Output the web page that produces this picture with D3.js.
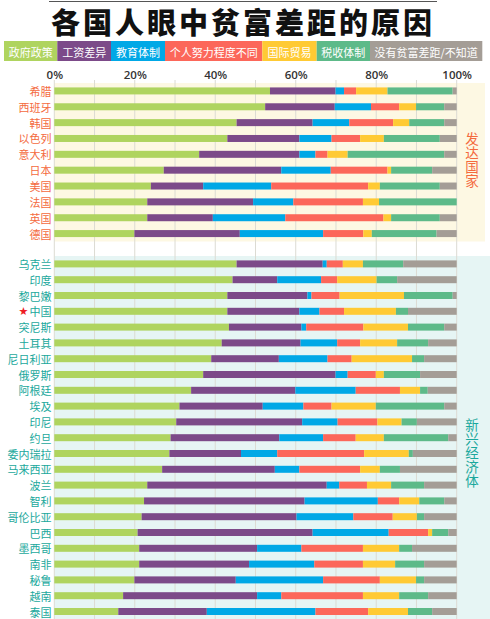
<!DOCTYPE html>
<html>
<head>
<meta charset="utf-8">
<script src="https://cdn.jsdelivr.net/npm/d3@7"></script>
<style>
  html, body { margin: 0; padding: 0; background: #fff; }
  svg { display: block; }
</style>
</head>
<body>
<svg id="chart" width="490" height="619"></svg>
<script>
// ---- data ----
const title = "各国人眼中贫富差距的原因";
const categories = ["政府政策", "工资差异", "教育体制", "个人努力程度不同", "国际贸易", "税收体制", "没有贫富差距/不知道"];
const seriesKeys = ["policy", "wages", "education", "effort", "trade", "tax", "none"];
const groupNames = ["发达国家", "新兴经济体"];
const developed = ["希腊", "西班牙", "韩国", "以色列", "意大利", "日本", "美国", "法国", "英国", "德国"];
const emerging = ["乌克兰", "印度", "黎巴嫩", "中国", "突尼斯", "土耳其", "尼日利亚", "俄罗斯", "阿根廷", "埃及", "印尼",
  "约旦", "委内瑞拉", "马来西亚", "波兰", "智利", "哥伦比亚", "巴西", "墨西哥", "南非", "秘鲁", "越南", "泰国"];
const highlight = "中国";
const tickValues = [0, 20, 40, 60, 80, 100];

// values in the order developed then emerging
const policy = [53.6, 52.4, 45.3, 43.0, 36.0, 27.2, 24.0, 23.1, 23.1, 19.9,
  45.3, 44.3, 43.0, 43.0, 43.4, 41.6, 39.0, 37.0, 34.0, 31.1, 30.3, 28.9, 28.6, 26.8, 23.1, 22.3, 21.7, 20.7, 21.1, 21.1, 19.9, 17.1, 15.9];
const wages = [16.3, 17.3, 18.9, 17.9, 24.9, 29.2, 13.0, 26.3, 16.3, 26.2,
  21.4, 11.1, 19.9, 17.9, 18.0, 19.6, 16.8, 32.9, 25.9, 20.7, 31.3, 27.0, 17.8, 28.0, 44.6, 39.9, 38.5, 43.5, 29.3, 27.3, 25.2, 33.3, 22.0];
const education = [2.1, 9.0, 9.1, 8.0, 4.0, 12.3, 16.9, 10.0, 18.0, 20.7,
  1.0, 10.9, 1.0, 5.0, 1.2, 9.1, 12.1, 3.0, 15.0, 10.1, 8.8, 10.9, 9.0, 6.1, 3.1, 18.2, 14.1, 18.9, 11.0, 16.2, 21.7, 6.0, 27.0];
const effort = [3.0, 7.0, 10.9, 7.1, 3.0, 14.1, 24.1, 17.3, 24.4, 10.0,
  4.0, 4.0, 7.0, 6.1, 14.2, 5.7, 6.0, 7.0, 11.0, 7.0, 9.9, 8.1, 21.6, 15.1, 6.9, 5.3, 9.8, 9.8, 15.3, 12.1, 14.1, 20.3, 13.1];
const trade = [7.8, 4.2, 4.0, 5.9, 5.0, 0.9, 2.9, 4.0, 1.9, 2.1,
  5.0, 9.8, 16.0, 12.9, 11.1, 9.2, 15.0, 2.0, 5.0, 11.0, 6.0, 7.0, 11.1, 4.9, 6.0, 5.0, 6.0, 1.0, 9.0, 8.0, 9.0, 9.0, 9.9];
const tax = [16.2, 7.0, 8.7, 13.9, 24.0, 10.2, 14.9, 19.3, 12.1, 16.1,
  10.0, 5.1, 12.1, 3.0, 9.0, 7.7, 3.0, 9.0, 1.9, 17.0, 3.8, 16.0, 1.0, 5.0, 8.2, 6.2, 1.8, 4.0, 3.2, 7.2, 2.0, 7.2, 6.0];
const none = [1.0, 3.1, 3.1, 4.2, 3.1, 6.1, 4.2, 0, 4.2, 5.0,
  13.3, 14.8, 1.0, 12.1, 3.1, 7.1, 8.1, 9.1, 7.2, 3.1, 9.9, 2.1, 10.9, 14.1, 8.1, 3.1, 8.1, 2.1, 11.1, 8.1, 8.1, 7.1, 6.1];

const colors = ["#afd45f", "#7c4a89", "#00a8e6", "#fc675a", "#ffca34", "#5dba89", "#a49d96"];

// ---- build table ----
const seriesArrays = [policy, wages, education, effort, trade, tax, none];
const countries = developed.concat(emerging);
const rows = countries.map((c, i) => {
  const r = { country: c, group: i < developed.length ? 0 : 1 };
  seriesKeys.forEach((k, j) => r[k] = seriesArrays[j][i]);
  return r;
});
const stacked = d3.stack().keys(seriesKeys)(rows);

// ---- layout ----
const svg = d3.select("#chart");
const cjk = "'Noto Sans CJK SC', 'Noto Sans', sans-serif";
const x = d3.scaleLinear().domain([0, 100]).range([54.3, 456.7]);

const yDev = d3.scaleBand().domain(developed).range([83, 241.5]).paddingInner(0).paddingOuter(0);
const yEm = d3.scaleBand().domain(emerging).range([256, 256 + 23 * 15.8]).paddingInner(0).paddingOuter(0);
const yOf = c => developed.includes(c) ? yDev(c) + yDev.bandwidth() / 2 : yEm(c) + yEm.bandwidth() / 2;
const barH = 7;

// top rule
svg.append("line").attr("x1", 49).attr("x2", 437).attr("y1", 1.5).attr("y2", 1.5)
  .attr("stroke", "#555").attr("stroke-width", 1);

// title
svg.append("text").attr("x", 243).attr("y", 20.5)
  .attr("text-anchor", "middle").attr("dominant-baseline", "central")
  .style("font-family", cjk).style("font-weight", 900).style("font-size", "29px")
  .style("letter-spacing", "3px")
  .attr("fill", "#111").text(title);

// legend
const legendEdges = [4, 57.3, 111, 165, 262.3, 316.7, 370, 482.3];
const lg = svg.append("g");
categories.forEach((c, i) => {
  lg.append("rect").attr("x", legendEdges[i]).attr("y", 41)
    .attr("width", legendEdges[i + 1] - legendEdges[i]).attr("height", 20)
    .attr("fill", colors[i]);
  lg.append("text").attr("x", (legendEdges[i] + legendEdges[i + 1]) / 2).attr("y", 51.5)
    .attr("text-anchor", "middle").attr("dominant-baseline", "central")
    .style("font-family", cjk).style("font-size", "11px").attr("fill", "#fff").text(c);
});

// panels
svg.append("rect").attr("x", 54.3).attr("y", 83).attr("width", 485 - 54.3).attr("height", 241.5 - 83)
  .attr("fill", "#fdf8e3");
svg.append("rect").attr("x", 54.3).attr("y", 256).attr("width", 490 - 54.3).attr("height", 619 - 256)
  .attr("fill", "#e6f5f4");

// gridlines
svg.append("g").selectAll("line").data(x.ticks(10)).join("line")
  .attr("x1", d => x(d)).attr("x2", d => x(d)).attr("y1", 80).attr("y2", 619)
  .attr("stroke", "#dcdbd3").attr("stroke-width", 1);

// axis labels
const axis = d3.axisTop(x).tickValues(tickValues).tickFormat(d => d + "%").tickSize(0).tickPadding(0);
const ag = svg.append("g").attr("transform", "translate(0,80)").call(axis);
ag.select(".domain").remove();
ag.selectAll("text").style("font-family", "'Open Sans', sans-serif").style("font-size", "11.5px")
  .style("font-weight", 600).attr("fill", "#333").attr("y", -1);

// bars
svg.append("g").selectAll("g").data(stacked).join("g")
  .attr("fill", (d, i) => colors[i])
  .selectAll("rect").data(d => d).join("rect")
  .attr("x", d => x(d[0]))
  .attr("width", d => Math.max(0, x(d[1]) - x(d[0])))
  .attr("y", d => yOf(d.data.country) - barH / 2)
  .attr("height", barH);

// country labels
svg.append("g").selectAll("text").data(rows).join("text")
  .attr("x", 51.5).attr("y", d => yOf(d.country))
  .attr("text-anchor", "end").attr("dominant-baseline", "central")
  .style("font-family", cjk).style("font-size", "11px")
  .attr("fill", d => d.group === 0 ? "#f46a3e" : "#1aa89c")
  .text(d => d.country);
svg.append("text").attr("x", 23.5).attr("y", yOf(highlight) + 0.5)
  .attr("text-anchor", "middle").attr("dominant-baseline", "central")
  .style("font-family", "'DejaVu Sans', sans-serif").style("font-size", "11px")
  .attr("fill", "#ee1d24").text("★");

// group labels (vertical, single text each)
function vlabel(txt, cx, cy, color) {
  svg.append("text").attr("x", cx).attr("y", cy)
    .attr("text-anchor", "middle")
    .style("writing-mode", "vertical-rl")
    .style("text-orientation", "upright")
    .style("font-family", cjk).style("font-size", "13.5px")
    .style("letter-spacing", "0.5px")
    .attr("fill", color).text(txt);
}
vlabel(groupNames[0], 472, 160, "#f46a3e");
vlabel(groupNames[1], 472, 453, "#1aa89c");
</script>
</body>
</html>
